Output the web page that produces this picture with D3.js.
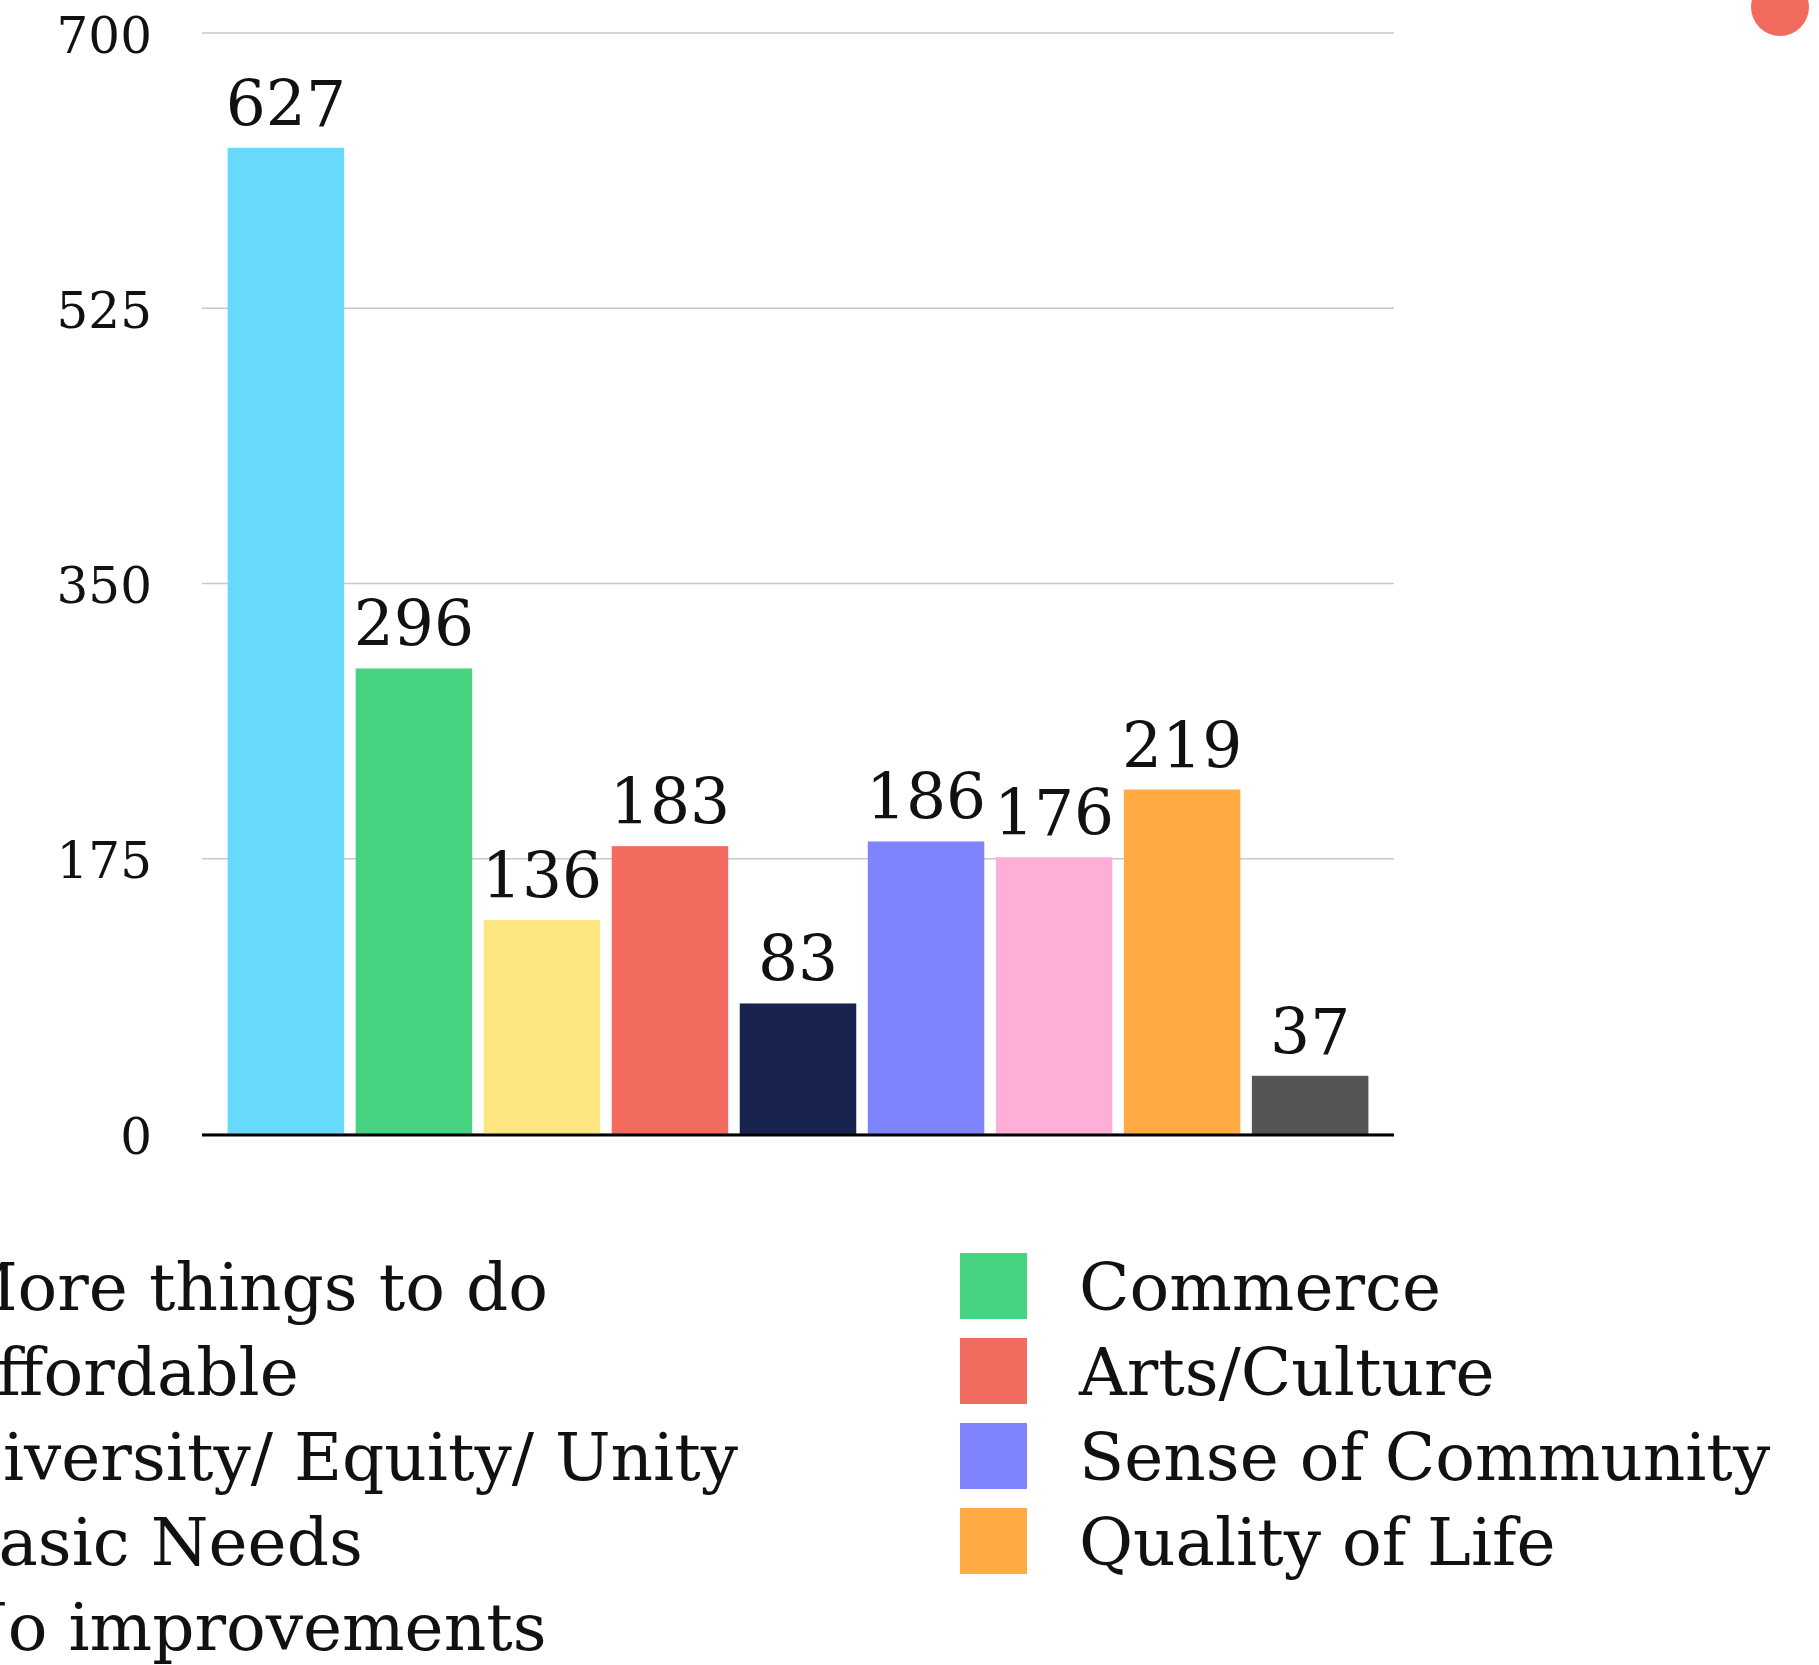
<!DOCTYPE html>
<html>
<head>
<meta charset="utf-8">
<script src="https://cdn.jsdelivr.net/npm/d3@7"></script>
<style>
  html, body { margin: 0; padding: 0; background: #fff; }
  svg { display: block; font-family: "DejaVu Serif", serif; }
</style>
</head>
<body>
<svg id="chart" width="1819" height="1665"></svg>
<script>
// ---- data ----
const categories = ["More things to do", "Commerce", "Affordable", "Arts/Culture",
  "Diversity/ Equity/ Unity", "Sense of Community", "Basic Needs", "Quality of Life", "No improvements"];
const values = [627, 296, 136, 183, 83, 186, 176, 219, 37];
const colors = ["#67D9FD", "#47D480", "#FDE680", "#F26B5E", "#18244F", "#7F84FD", "#FFAED7", "#FFAA42", "#555555"];
const yTicks = [0, 175, 350, 525, 700];

// ---- layout ----
const svg = d3.select("#chart");
const plot = { left: 202, right: 1394, top: 33, bottom: 1134 };

const x = d3.scaleBand().domain(categories).range([plot.left, plot.right])
  .paddingInner(0.09).paddingOuter(0.2);
const y = d3.scaleLinear().domain([0, 700]).range([plot.bottom, plot.top]);

// gridlines
svg.append("g").selectAll("line").data(yTicks).join("line")
  .attr("x1", plot.left).attr("x2", plot.right)
  .attr("y1", d => y(d)).attr("y2", d => y(d))
  .attr("stroke", "#c8c8c8").attr("stroke-width", 1.5);

// y axis labels
const yAxis = d3.axisLeft(y).tickValues(yTicks).tickSize(0).tickPadding(0);
const gy = svg.append("g").attr("transform", `translate(152,0)`).call(yAxis);
gy.select(".domain").remove();
gy.selectAll("text").attr("font-family", "DejaVu Serif").attr("font-size", 50)
  .attr("fill", "#111").attr("dy", "0.38em");

// bars
svg.append("g").selectAll("rect").data(values).join("rect")
  .attr("x", (d, i) => x(categories[i]))
  .attr("width", x.bandwidth())
  .attr("y", d => y(d))
  .attr("height", d => y(0) - y(d))
  .attr("fill", (d, i) => colors[i]);

// value labels
svg.append("g").selectAll("text").data(values).join("text")
  .attr("x", (d, i) => x(categories[i]) + x.bandwidth() / 2)
  .attr("y", d => y(d) - 22)
  .attr("text-anchor", "middle")
  .attr("font-size", 63)
  .attr("fill", "#111")
  .text(d => d);

// baseline axis
svg.append("line").attr("x1", plot.left).attr("x2", plot.right)
  .attr("y1", y(0) + 1).attr("y2", y(0) + 1)
  .attr("stroke", "#000").attr("stroke-width", 3);

// legend: two columns, row-major
const legend = svg.append("g");
const colX = [-169, 960], rowY0 = 1253, rowStep = 85;
const items = legend.selectAll("g").data(categories).join("g")
  .attr("transform", (d, i) => `translate(${colX[i % 2]},${rowY0 + Math.floor(i / 2) * rowStep})`);
items.append("rect").attr("width", 67).attr("height", 66).attr("fill", (d, i) => colors[i]);
items.append("text").attr("x", 119).attr("y", 57)
  .attr("font-size", 66).attr("fill", "#111").text(d => d);

// decorative red dot top-right
svg.append("circle").attr("cx", 1780).attr("cy", 7).attr("r", 29).attr("fill", "#F26B5E");
</script>
</body>
</html>
